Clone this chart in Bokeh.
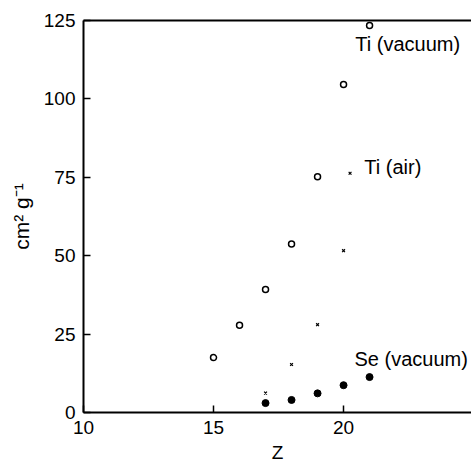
from bokeh.plotting import figure
from bokeh.models import Range1d, FixedTicker, LinearAxis, Label
from bokeh.embed import file_html
from bokeh.resources import INLINE

# Data
ti_vac_z = [15, 16, 17, 18, 19, 20, 21]
ti_vac_v = [17.5, 27.8, 39.2, 53.7, 75.2, 104.6, 123.4]

ti_air_z = [17, 18, 19, 20, 20.25]
ti_air_v = [6.2, 15.3, 28.0, 51.6, 76.3]

se_vac_z = [17, 18, 19, 20, 21]
se_vac_v = [3.0, 4.0, 6.1, 8.7, 11.3]

x_ticks = [10, 15, 20]
y_ticks = [0, 25, 50, 75, 100, 125]
series_labels = ["Ti (vacuum)", "Ti (air)", "Se (vacuum)"]

FONT = "Liberation Sans"

p = figure(width=471, height=468, output_backend="svg", toolbar_location=None,
           x_range=Range1d(10, 24.92), y_range=Range1d(0, 125),
           min_border_left=83, min_border_right=0, min_border_top=20, min_border_bottom=56)
p.outline_line_color = None
p.xgrid.visible = False
p.ygrid.visible = False
p.background_fill_color = "white"
p.border_fill_color = "white"

for ax in (p.xaxis[0], p.yaxis[0]):
    ax.axis_line_color = "black"
    ax.axis_line_width = 2
    ax.major_tick_in = 7
    ax.major_tick_out = 0
    ax.major_tick_line_width = 1.5
    ax.minor_tick_line_color = None
    ax.major_label_text_font = FONT
    ax.major_label_text_font_size = "19px"
    ax.major_label_text_color = "black"
    ax.axis_label_text_font = FONT
    ax.axis_label_text_font_size = "19px"
    ax.axis_label_text_font_style = "normal"
    ax.axis_label_text_color = "black"

p.xaxis.ticker = FixedTicker(ticks=x_ticks)
p.yaxis.ticker = FixedTicker(ticks=y_ticks)
p.xaxis.major_label_standoff = 8
p.yaxis.major_label_standoff = 8
p.xaxis.axis_label = "Z"
p.xaxis.axis_label_standoff = 5
p.yaxis.axis_label = "cm² g⁻¹"
p.yaxis.axis_label_text_font_size = "21px"
p.yaxis.axis_label_standoff = 8

top = LinearAxis(ticker=FixedTicker(ticks=[]), axis_line_width=2,
                 major_label_text_font_size="0px", major_tick_line_color=None,
                 minor_tick_line_color=None)
p.add_layout(top, "above")

p.scatter(ti_vac_z, ti_vac_v, marker="circle", size=6, fill_color="white",
          line_color="black", line_width=1.5)
p.scatter(ti_air_z, ti_air_v, marker="x", size=4, line_color="black", line_width=1.2)
p.scatter(se_vac_z, se_vac_v, marker="circle", size=7, fill_color="black",
          line_color="black")

label_pos = [(20.45, 117.5), (20.8, 78.3), (20.42, 17.0)]
for txt, (lx, ly) in zip(series_labels, label_pos):
    p.add_layout(Label(x=lx, y=ly, text=txt, text_font=FONT, text_font_size="20px",
                       text_color="black", text_baseline="middle", text_align="left"))

open("out.html", "w").write(file_html(p, INLINE))
